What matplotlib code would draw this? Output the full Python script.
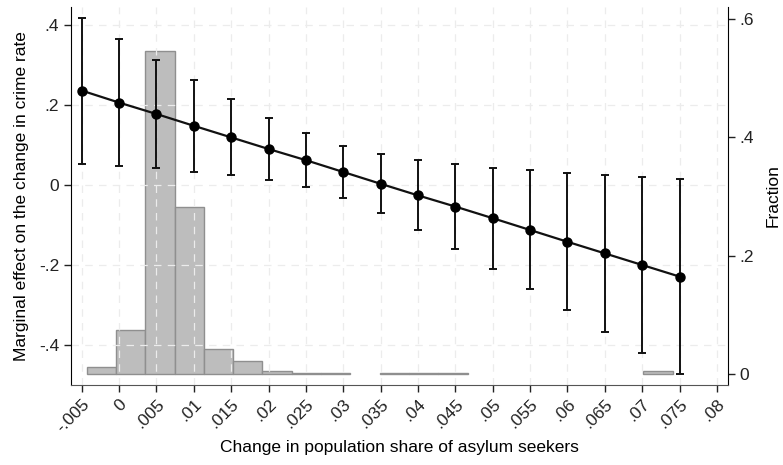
import matplotlib
matplotlib.use("Agg")
import matplotlib.pyplot as plt

# Marginal effects with 95% CI, plus histogram of the moderator (fraction)

share = [-0.005, 0.0, 0.005, 0.01, 0.015, 0.02, 0.025, 0.03, 0.035,
         0.04, 0.045, 0.05, 0.055, 0.06, 0.065, 0.07, 0.075]
effect = [0.236, 0.206, 0.1775, 0.148, 0.119, 0.09, 0.062, 0.0325, 0.003,
          -0.026, -0.054, -0.083, -0.1125, -0.142, -0.171, -0.2, -0.229]
ci_hi = [0.418, 0.365, 0.313, 0.2625, 0.214, 0.168, 0.129, 0.098, 0.077,
         0.0625, 0.0525, 0.043, 0.037, 0.031, 0.026, 0.021, 0.016]
ci_lo = [0.053, 0.048, 0.042, 0.033, 0.025, 0.0125, -0.005, -0.033, -0.069,
         -0.1125, -0.161, -0.209, -0.261, -0.313, -0.3675, -0.419, -0.4725]

bin_left = [-0.00433, -0.00041, 0.00351, 0.00743, 0.01135, 0.01527, 0.01919,
            0.02311, 0.02703, 0.03487, 0.03879, 0.04271, 0.07015]
fraction = [0.012, 0.0744, 0.546, 0.282, 0.0417, 0.022, 0.005,
            0.0017, 0.0017, 0.0017, 0.0017, 0.0017, 0.005]
bin_width = 0.00392

x_ticks = [-0.005, 0.0, 0.005, 0.01, 0.015, 0.02, 0.025, 0.03, 0.035, 0.04,
           0.045, 0.05, 0.055, 0.06, 0.065, 0.07, 0.075, 0.08]
x_labels = ["-.005", "0", ".005", ".01", ".015", ".02", ".025", ".03", ".035",
            ".04", ".045", ".05", ".055", ".06", ".065", ".07", ".075", ".08"]
y_ticks = [-0.4, -0.2, 0.0, 0.2, 0.4]
y_labels = ["-.4", "-.2", "0", ".2", ".4"]
f_ticks = [0.0, 0.2, 0.4, 0.6]
f_labels = ["0", ".2", ".4", ".6"]

plt.rcParams["font.family"] = ["Liberation Sans", "DejaVu Sans"]
plt.rcParams["font.size"] = 12.5

fig = plt.figure(figsize=(7.83, 4.65), dpi=100)
ax = fig.add_axes([0.0907, 0.172, 0.839, 0.813])
ax2 = ax.twinx()

# histogram on the right axis, drawn behind the estimates
ax2.bar(bin_left, fraction, width=bin_width, align="edge",
        color="#bdbdbd", edgecolor="#8f8f8f", linewidth=1.0)
ax2.set_ylim(-0.0186, 0.620)
ax2.set_yticks(f_ticks)
ax2.set_yticklabels(f_labels)
ax2.set_ylabel("Fraction", labelpad=8)

ax.set_zorder(ax2.get_zorder() + 1)
ax.patch.set_visible(False)

lo_err = [e - l for e, l in zip(effect, ci_lo)]
hi_err = [h - e for e, h in zip(effect, ci_hi)]
ax.errorbar(share, effect, yerr=[lo_err, hi_err], fmt="none", ecolor="#111111",
            elinewidth=1.4, capsize=3, capthick=1.4)
ax.plot(share, effect, color="#111111", linewidth=1.6, marker="o",
        markersize=6.5, markerfacecolor="black", markeredgecolor="black")

ax.set_xlim(-0.00643, 0.08147)
ax.set_ylim(-0.5, 0.445)
ax.set_xticks(x_ticks)
ax.set_xticklabels(x_labels, rotation=45, ha="right", rotation_mode="anchor")
ax.set_yticks(y_ticks)
ax.set_yticklabels(y_labels)
ax.set_xlabel("Change in population share of asylum seekers")
ax.xaxis.set_label_coords(0.5, -0.145)
ax.set_ylabel("Marginal effect on the change in crime rate", labelpad=7)
ax.grid(True, linestyle=(0, (6, 5)), color="#ececec", linewidth=0.9)

for a in (ax, ax2):
    a.spines["top"].set_visible(False)
    a.tick_params(direction="out", length=5, width=1, colors="#222222")
ax.spines["right"].set_visible(False)
ax2.spines["left"].set_visible(False)
ax2.spines["bottom"].set_visible(False)
ax.spines["bottom"].set_color("#555555")

fig.savefig("out.png", dpi=100)
